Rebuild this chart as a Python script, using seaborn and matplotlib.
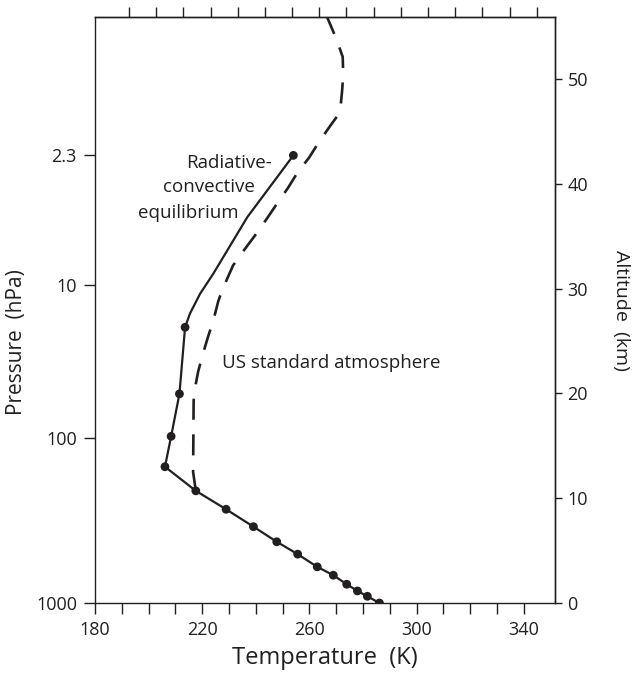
import numpy as np
import pandas as pd
import matplotlib
matplotlib.use("Agg")
import matplotlib.pyplot as plt
import seaborn as sns

# Radiative-convective equilibrium profile (temperature K, altitude km)
rce_temp = [286.1, 281.6, 277.9, 273.9, 268.9, 262.9, 255.6, 247.8, 239.1, 228.9,
            217.6, 206.1, 208.4, 211.5, 213.6, 215.4, 219.2, 224.1, 236.8, 254.0]
rce_alt = [0.0, 0.64, 1.15, 1.79, 2.65, 3.45, 4.66, 5.84, 7.28, 8.94,
           10.7, 13.0, 15.9, 19.95, 26.3, 27.6, 29.5, 31.4, 36.8, 42.7]

# Computed levels shown as dots
dot_temp = [286.1, 281.6, 277.9, 273.9, 268.9, 262.9, 255.6, 247.8, 239.1, 228.9,
            217.6, 206.1, 208.4, 211.5, 213.6, 254.0]
dot_alt = [0.0, 0.64, 1.15, 1.79, 2.65, 3.45, 4.66, 5.84, 7.28, 8.94,
           10.7, 13.0, 15.9, 19.95, 26.3, 42.7]

# US standard atmosphere above the tropopause
std_temp = [217.6, 216.6, 216.8, 217.3, 218.5, 220.4, 222.3, 224.1, 226.0, 227.4,
            228.9, 231.5, 236.0, 240.1, 244.2, 247.9, 252.0, 255.4, 259.9, 263.6,
            267.7, 271.4, 272.2, 272.6, 272.4, 269.9, 266.9, 266.6]
std_alt = [10.7, 12.5, 19.3, 20.5, 22.1, 23.9, 25.5, 26.9, 28.8, 29.8,
           30.7, 32.2, 33.8, 35.2, 36.7, 38.1, 39.6, 41.0, 42.5, 44.0,
           45.5, 46.8, 48.9, 50.4, 52.1, 53.9, 55.7, 55.9]

# Pressure labels placed at their altitudes
pressure_alt = [0.0, 15.7, 30.3, 42.7]
pressure_labels = ["1000", "100", "10", "2.3"]

temp_ticks = [180, 220, 260, 300, 340]
alt_ticks = [0, 10, 20, 30, 40, 50]

sns.set_theme(style="ticks")
plt.rcParams["font.family"] = ["Open Sans", "DejaVu Sans"]

ink = "#231f20"
plt.rcParams.update({
    "axes.edgecolor": ink,
    "axes.linewidth": 1.0,
    "xtick.color": ink,
    "ytick.color": ink,
    "text.color": ink,
    "axes.labelcolor": ink,
})

fig = plt.figure(figsize=(6.36, 6.86), dpi=100)
ax = fig.add_axes([95 / 636, 1 - 603 / 686, (555 - 95) / 636, (603 - 17) / 686])

rce = pd.DataFrame({"T": rce_temp, "z": rce_alt})
dots = pd.DataFrame({"T": dot_temp, "z": dot_alt})
std = pd.DataFrame({"T": std_temp, "z": std_alt})

sns.lineplot(data=std, x="T", y="z", sort=False, estimator=None, ax=ax,
             color=ink, lw=1.9, dashes=False, linestyle=(0, (8, 5.5)))
sns.lineplot(data=rce, x="T", y="z", sort=False, estimator=None, ax=ax,
             color=ink, lw=1.6)
sns.scatterplot(data=dots, x="T", y="z", ax=ax, color=ink, s=40,
                edgecolor="none", zorder=5)

ax.set_xlim(180, 351.6)
ax.set_ylim(0, 55.9)

# Bottom temperature axis
ax.set_xticks(temp_ticks)
ax.set_xticks(np.arange(190, 350, 10), minor=True)
ax.tick_params(axis="x", which="both", direction="out", length=8, width=1.0,
               labelsize=13, pad=5)
ax.set_xlabel("Temperature  (K)", fontsize=17, labelpad=5)

# Left pressure axis
ax.set_yticks(pressure_alt)
ax.set_yticklabels(pressure_labels)
ax.tick_params(axis="y", direction="out", length=8, width=1.0, labelsize=13, pad=5)
ax.set_ylabel("Pressure  (hPa)", fontsize=15)
ax.yaxis.set_label_coords(-0.148, 0.445)

# Top axis: tick marks only
top = ax.secondary_xaxis("top")
top.set_xticks(np.linspace(192.7, 344.8, 16))
top.tick_params(axis="x", direction="out", length=7.5, width=1.0, labeltop=False)

# Right altitude axis
right = ax.secondary_yaxis("right")
right.set_yticks(alt_ticks)
right.tick_params(axis="y", direction="out", length=5, width=1.0, labelsize=13, pad=4)
right.set_ylabel("Altitude  (km)", fontsize=14, rotation=270, labelpad=30)

for s in ["top", "right", "left", "bottom"]:
    ax.spines[s].set_visible(True)
    ax.spines[s].set_linewidth(1.0)
for s in top.spines.values():
    s.set_linewidth(1.0)
for s in right.spines.values():
    s.set_linewidth(1.0)

# Curve labels, stepped to follow the slope of the profile
ax.text(246.0, 42.0, "Radiative-", fontsize=13.5, ha="right", va="center")
ax.text(239.7, 39.7, "convective", fontsize=13.5, ha="right", va="center")
ax.text(233.7, 37.2, "equilibrium", fontsize=13.5, ha="right", va="center")
ax.text(227.4, 22.9, "US standard atmosphere", fontsize=13.5, ha="left", va="center")

fig.savefig("out.png", dpi=100)
